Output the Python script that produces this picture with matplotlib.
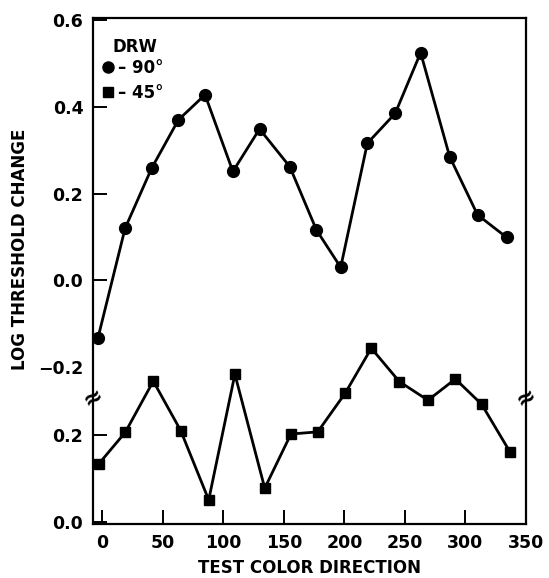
import matplotlib
matplotlib.use("Agg")
import matplotlib.pyplot as plt
from matplotlib.lines import Line2D

plt.rcParams['font.family'] = ['DejaVu Sans']
plt.rcParams['font.weight'] = 'bold'
plt.rcParams['axes.labelweight'] = 'bold'

# Upper curve: DRW -90 deg (circles)
x_90 = [-3.5, 19, 41, 63, 85, 108, 130, 155, 177, 197, 219, 242, 263, 287, 310, 334]
y_90 = [-0.134, 0.120, 0.259, 0.370, 0.428, 0.251, 0.349, 0.262, 0.116, 0.030,
        0.316, 0.385, 0.525, 0.285, 0.151, 0.099]

# Lower curve: DRW -45 deg (squares), plotted on the lower (broken) scale
x_45 = [-2.5, 19, 42, 64.5, 87.5, 109, 133.5, 155, 177, 199.5, 221, 244, 267.5, 290, 311.5, 335]
y_45 = [0.135, 0.207, 0.325, 0.211, 0.051, 0.341, 0.078, 0.203, 0.208, 0.297,
        0.401, 0.324, 0.281, 0.330, 0.272, 0.161]

xticks = [0, 50, 100, 150, 200, 250, 300, 350]
upper_yticks = [0.0, 0.2, 0.4, 0.6]
lower_yticks = [0.0, 0.2]

W, H = 549, 578
fig = plt.figure(figsize=(W / 100, H / 100), dpi=100)
left, right, top, bottom = 93, 526, 18, 524
rect = [left / W, 1 - bottom / H, (right - left) / W, (bottom - top) / H]

ax = fig.add_axes(rect)
ax2 = fig.add_axes(rect, facecolor='none')

xlim = (-7.5, 348)
ax.set_xlim(*xlim)
ax2.set_xlim(*xlim)
ax.set_ylim(-0.562, 0.605)
ax2.set_ylim(-0.0046, 1.163)

fs = 12.5
ax.plot(x_90, y_90, color='black', lw=2.0, marker='o', ms=8.5, zorder=3)
ax2.plot(x_45, y_45, color='black', lw=2.0, marker='s', ms=7.5, zorder=3)

for s in ['top', 'bottom', 'left', 'right']:
    ax.spines[s].set_linewidth(1.6)
    ax2.spines[s].set_visible(False)

ax.set_xticks(xticks)
ax.set_xticklabels([str(t) for t in xticks], fontsize=fs)
ax.set_yticks(upper_yticks)
ax.set_yticklabels([f"{t:.1f}" for t in upper_yticks], fontsize=fs)
ax.set_yticks([-0.2], minor=True)
ax.set_yticklabels(['\u22120.2'], minor=True, fontsize=fs)
ax.tick_params(axis='both', which='major', direction='in', length=10, width=1.4, pad=7)
ax.tick_params(axis='y', which='minor', length=0, pad=7)
ax.tick_params(axis='x', which='major', pad=7)
ax.tick_params(top=False, right=False)

ax2.set_yticks(lower_yticks)
ax2.set_yticklabels([f"{t:.1f}" for t in lower_yticks], fontsize=fs)
ax2.tick_params(axis='y', direction='in', length=10, width=1.4, pad=7)
ax2.tick_params(axis='x', bottom=False, labelbottom=False)

ax.set_xlabel('TEST COLOR DIRECTION', fontsize=12, fontweight='bold', labelpad=5)
fig.text(20 / W, 1 - 249 / H, 'LOG THRESHOLD CHANGE', rotation=90,
         ha='center', va='center', fontsize=12, fontweight='bold')

# axis break marks on both spines
brk_y = -0.27
for xb in (0.0, 1.0):
    ax.text(xb, brk_y, '\u2248', transform=ax.get_yaxis_transform(),
            ha='center', va='center', fontsize=17, fontweight='bold', rotation=30,
            zorder=5)

ax.text(20 / 433, 1 - 29 / 506, 'DRW', transform=ax.transAxes,
        ha='left', va='center', fontsize=12, fontweight='bold')
handles = [Line2D([], [], color='black', marker='o', ms=8, ls='none'),
           Line2D([], [], color='black', marker='s', ms=7, ls='none')]
leg = ax.legend(handles, ['\u2013 90\u00b0', '\u2013 45\u00b0'],
                loc='upper left', bbox_to_anchor=(-0.012, 0.942), frameon=False,
                prop={'size': 12, 'weight': 'bold'}, handletextpad=0.1,
                labelspacing=0.4, borderaxespad=0.3, handlelength=1.0)

fig.savefig('out.png', dpi=100)
